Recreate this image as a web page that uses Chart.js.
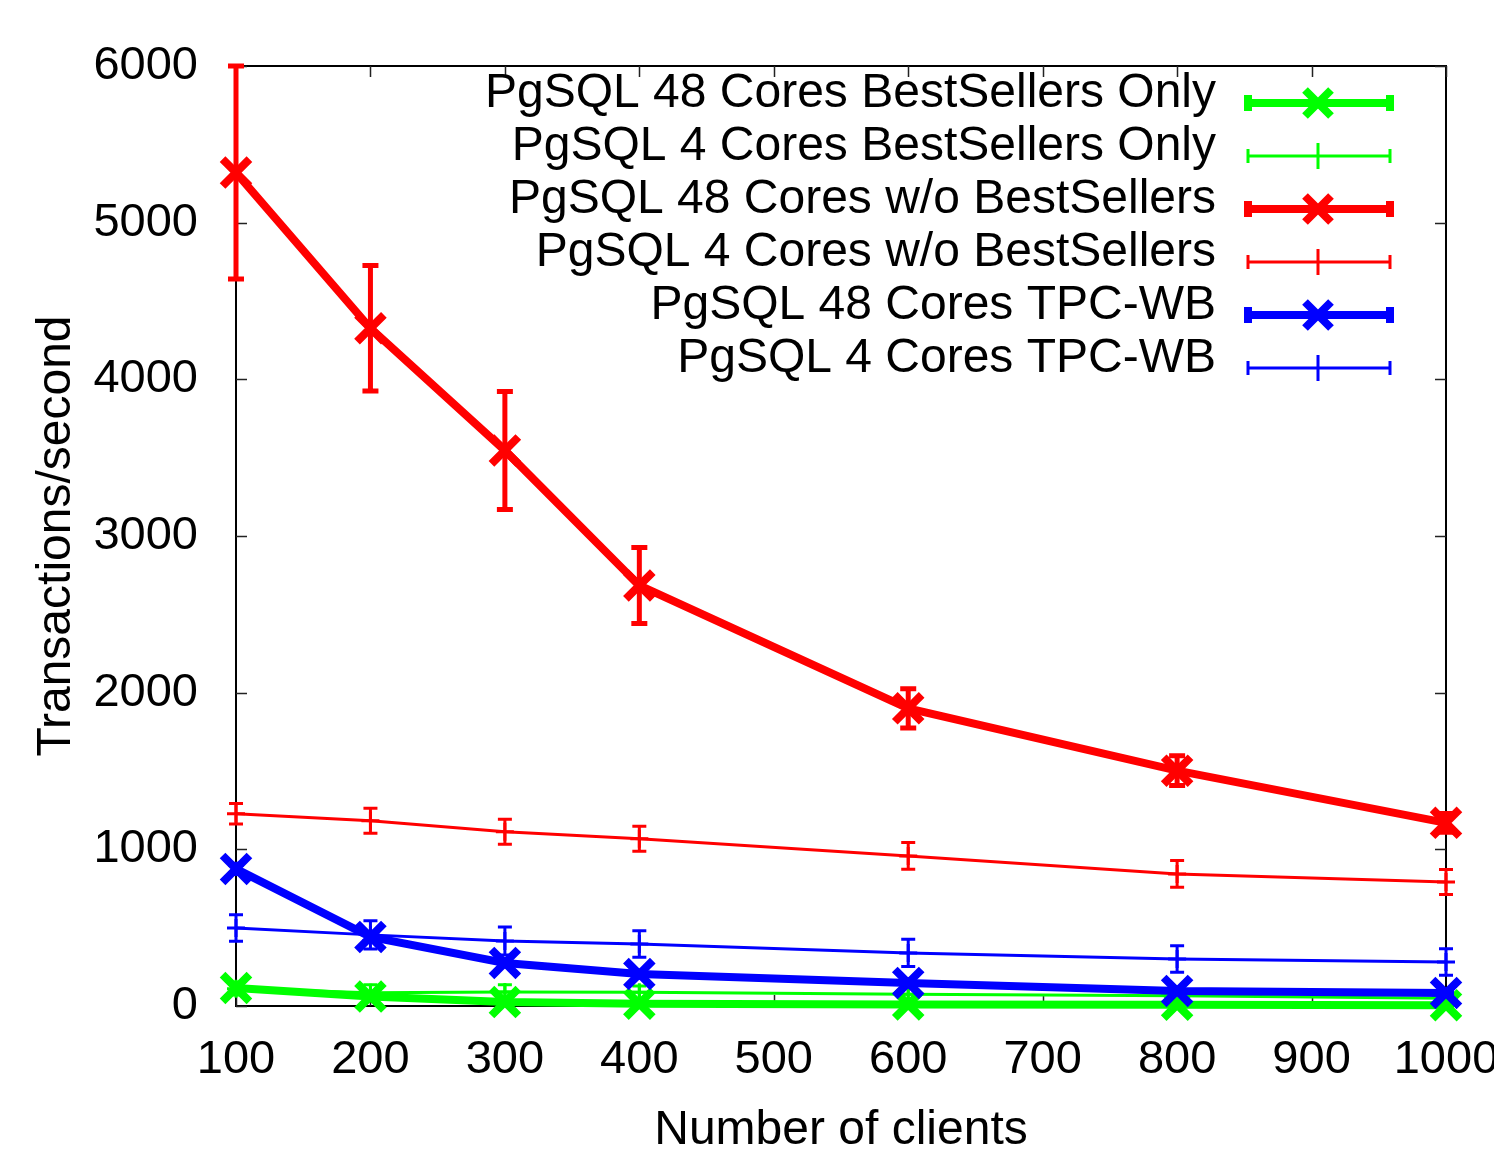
<!DOCTYPE html>
<html><head><meta charset="utf-8">
<script src="https://cdn.jsdelivr.net/npm/chart.js@4"></script>
<style>html,body{margin:0;padding:0;background:#fff}#wrap{width:1494px;height:1152px;position:relative}</style>
</head><body><div id="wrap"><canvas id="c"></canvas></div>
<script>
const clients = [100, 200, 300, 400, 600, 800, 1000];
const xTicks = [100, 200, 300, 400, 500, 600, 700, 800, 900, 1000];
const yTicks = [0, 1000, 2000, 3000, 4000, 5000, 6000];
const seriesLabels = [
  'PgSQL 48 Cores BestSellers Only',
  'PgSQL 4 Cores BestSellers Only',
  'PgSQL 48 Cores w/o BestSellers',
  'PgSQL 4 Cores w/o BestSellers',
  'PgSQL 48 Cores TPC-WB',
  'PgSQL 4 Cores TPC-WB'
];
const green48 = [115, 60, 25, 15, 10, 8, 5];
const green48Err = [30, 20, 15, 10, 10, 10, 10];
const green4 = [110, 85, 90, 88, 75, 65, 50];
const green4Err = [40, 50, 45, 40, 40, 35, 30];
const red48 = [5320, 4326, 3546, 2684, 1900, 1502, 1169];
const red48Err = [680, 400, 377, 243, 125, 95, 60];
const red4 = [1227, 1182, 1112, 1067, 958, 843, 792];
const red4Err = [65, 80, 80, 80, 85, 85, 80];
const blue48 = [875, 441, 275, 204, 147, 96, 83];
const blue48Err = [30, 30, 20, 20, 20, 15, 15];
const blue4 = [498, 454, 415, 396, 339, 300, 281];
const blue4Err = [85, 90, 90, 85, 87, 85, 85];
const xTitle = 'Number of clients';
const yTitle = 'Transactions/second';

const GREEN = '#00ff00', RED = '#ff0000', BLUE = '#0000ff';
const FONT = '"Liberation Sans", Arial, Helvetica, sans-serif';

function mk(label, vals, errs, color, thick, idx) {
  return {
    label: label,
    data: clients.map((x, i) => ({x: x, y: vals[i]})),
    errors: errs,
    thick: thick,
    borderColor: color,
    backgroundColor: color,
    borderWidth: thick ? 8 : 3,
    pointStyle: thick ? 'crossRot' : 'cross',
    pointRadius: thick ? 19 : 9,
    pointBorderWidth: thick ? 8 : 3,
    pointHoverRadius: thick ? 19 : 9,
    pointBorderColor: color,
    tension: 0,
    fill: false,
    clip: false,
    order: 10 - idx
  };
}

const datasets = [
  mk(seriesLabels[0], green48, green48Err, GREEN, true, 0),
  mk(seriesLabels[1], green4, green4Err, GREEN, false, 1),
  mk(seriesLabels[2], red48, red48Err, RED, true, 2),
  mk(seriesLabels[3], red4, red4Err, RED, false, 3),
  mk(seriesLabels[4], blue48, blue48Err, BLUE, true, 4),
  mk(seriesLabels[5], blue4, blue4Err, BLUE, false, 5)
];

const framePlugin = {
  id: 'frame',
  beforeDatasetsDraw(chart) {
    const {ctx, chartArea: a, scales: {x, y}} = chart;
    ctx.save();
    ctx.strokeStyle = '#000';
    ctx.lineWidth = 2;
    ctx.strokeRect(a.left, a.top, a.right - a.left, a.bottom - a.top);
    ctx.lineWidth = 1.5;
    ctx.strokeStyle = '#222';
    const tl = 11;
    ctx.beginPath();
    xTicks.forEach(v => {
      const px = Math.round(x.getPixelForValue(v)) + 0.5;
      ctx.moveTo(px, a.bottom); ctx.lineTo(px, a.bottom - tl);
      ctx.moveTo(px, a.top); ctx.lineTo(px, a.top + tl);
    });
    yTicks.forEach(v => {
      const py = Math.round(y.getPixelForValue(v)) + 0.5;
      ctx.moveTo(a.left, py); ctx.lineTo(a.left + tl, py);
      ctx.moveTo(a.right, py); ctx.lineTo(a.right - tl, py);
    });
    ctx.stroke();
    ctx.restore();
  }
};

const errPlugin = {
  id: 'errbars',
  afterDatasetDraw(chart, args) {
    const ds = chart.data.datasets[args.index];
    const {ctx, scales: {x, y}} = chart;
    ctx.save();
    ctx.strokeStyle = ds.borderColor;
    ctx.lineCap = 'butt';
    const lw = ds.thick ? 5 : 3;
    const cw = ds.thick ? 8 : 7;
    ctx.lineWidth = lw;
    ds.data.forEach((p, i) => {
      const e = ds.errors[i];
      const px = x.getPixelForValue(p.x);
      const yt = y.getPixelForValue(p.y + e);
      const yb = y.getPixelForValue(p.y - e);
      ctx.beginPath();
      ctx.moveTo(px, yt); ctx.lineTo(px, yb);
      ctx.moveTo(px - cw, yt); ctx.lineTo(px + cw, yt);
      ctx.moveTo(px - cw, yb); ctx.lineTo(px + cw, yb);
      ctx.stroke();
    });
    ctx.restore();
  }
};

const legendPlugin = {
  id: 'gpLegend',
  afterDatasetsDraw(chart) {
    const {ctx} = chart;
    ctx.save();
    const textRight = 1216, x0 = 1248, x1 = 1390, xm = 1318;
    const rowY0 = 103, rowStep = 53;
    chart.data.datasets.forEach((ds, i) => {
      const yy = rowY0 + i * rowStep;
      ctx.fillStyle = '#000';
      ctx.font = '48px ' + FONT;
      ctx.textAlign = 'right';
      ctx.textBaseline = 'alphabetic';
      ctx.fillText(ds.label, textRight, yy + 4);
      ctx.strokeStyle = ds.borderColor;
      ctx.fillStyle = ds.borderColor;
      if (ds.thick) {
        ctx.lineWidth = 8;
        ctx.beginPath(); ctx.moveTo(x0, yy); ctx.lineTo(x1, yy); ctx.stroke();
        ctx.fillRect(x0 - 4, yy - 8, 8, 16);
        ctx.fillRect(x1 - 4, yy - 8, 8, 16);
        ctx.lineWidth = 8;
        const r = 13;
        ctx.beginPath();
        ctx.moveTo(xm - r, yy - r); ctx.lineTo(xm + r, yy + r);
        ctx.moveTo(xm - r, yy + r); ctx.lineTo(xm + r, yy - r);
        ctx.stroke();
      } else {
        ctx.lineWidth = 3;
        ctx.beginPath(); ctx.moveTo(x0, yy); ctx.lineTo(x1, yy); ctx.stroke();
        ctx.beginPath();
        ctx.moveTo(x0, yy - 7); ctx.lineTo(x0, yy + 7);
        ctx.moveTo(x1, yy - 7); ctx.lineTo(x1, yy + 7);
        ctx.moveTo(xm, yy - 13); ctx.lineTo(xm, yy + 13);
        ctx.stroke();
      }
    });
    ctx.restore();
  }
};

new Chart(document.getElementById('c'), {
  type: 'line',
  data: {datasets: datasets},
  options: {
    responsive: true,
    maintainAspectRatio: false,
    animation: false,
    events: [],
    layout: {padding: {left: 0, top: 66, right: 48, bottom: 0}},
    plugins: {legend: {display: false}, tooltip: {enabled: false}, title: {display: false}},
    scales: {
      x: {
        type: 'linear',
        min: 100, max: 1000,
        grid: {display: false},
        border: {display: false},
        afterBuildTicks: s => { s.ticks = xTicks.map(v => ({value: v})); },
        ticks: {color: '#000', padding: 18, maxRotation: 0, autoSkip: false,
                callback: v => String(v),
                font: {family: FONT, size: 47}},
        title: {display: true, text: xTitle, color: '#000', padding: {top: 0, bottom: -8},
                font: {family: FONT, size: 48}},
        afterFit: s => { s.height = 146; s.paddingLeft = 0; s.paddingRight = 0; }
      },
      y: {
        type: 'linear',
        min: 0, max: 6000,
        grid: {display: false},
        border: {display: false},
        afterBuildTicks: s => { s.ticks = yTicks.map(v => ({value: v})); },
        ticks: {color: '#000', padding: 30, callback: v => String(v),
                font: {family: FONT, size: 47}},
        title: {display: true, text: yTitle, color: '#000', padding: {top: 28, bottom: 0},
                font: {family: FONT, size: 48}},
        afterFit: s => { s.width = 236; s.paddingTop = 0; s.paddingBottom = 0; }
      }
    }
  },
  plugins: [framePlugin, errPlugin, legendPlugin]
});
</script>
</body></html>
